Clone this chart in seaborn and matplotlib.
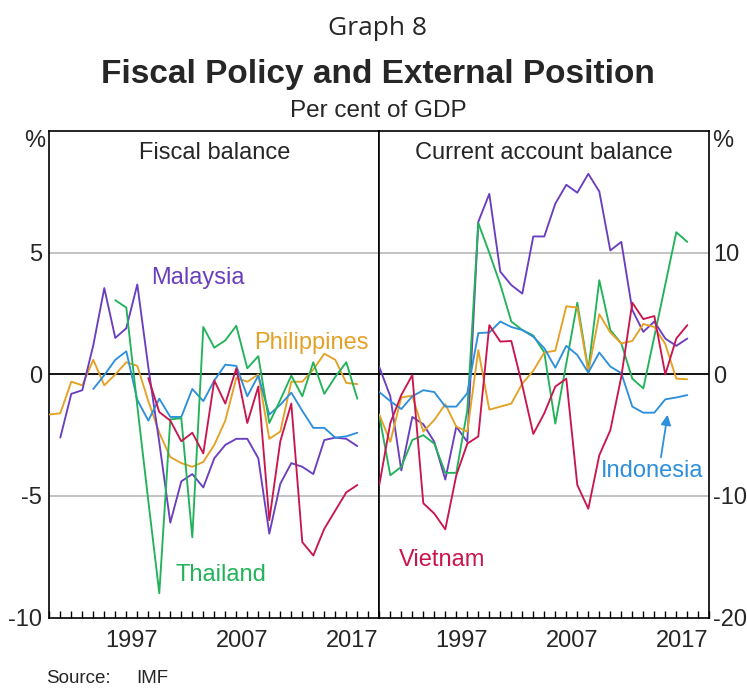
import numpy as np
import pandas as pd
import matplotlib
matplotlib.use("Agg")
import matplotlib.pyplot as plt
import seaborn as sns

sns.set_theme(style="white")
plt.rcParams["font.family"] = ["Liberation Sans", "DejaVu Sans"]

# ---------------- data (per cent of GDP), year-end observations ----------------
years = list(range(1989, 2018))  # 1989 .. 2017

# Fiscal balance
fiscal_philippines = [-1.65, -1.6, -0.3, -0.45, 0.6, -0.45, 0.0, 0.5, 0.35, -1.1,
                      -2.4, -3.4, -3.65, -3.8, -3.6, -2.9, -1.9, -0.15, -0.3, 0.0,
                      -2.65, -2.35, -0.3, -0.3, 0.2, 0.85, 0.6, -0.35, -0.4]
fiscal_malaysia = [None, -2.6, -0.8, -0.65, 1.2, 3.55, 1.5, 1.9, 3.7, 0.3,
                   -2.8, -6.1, -4.4, -4.1, -4.65, -3.45, -2.9, -2.65, -2.65, -3.45,
                   -6.55, -4.5, -3.65, -3.8, -4.1, -2.7, -2.6, -2.65, -2.95]
fiscal_indonesia = [None, None, None, None, -0.6, -0.03, 0.6, 0.95, -1.05, -1.9,
                    -1.0, -1.75, -1.75, -0.6, -1.1, -0.25, 0.4, 0.35, -0.9, -0.05,
                    -1.65, -1.25, -0.75, -1.5, -2.2, -2.2, -2.6, -2.55, -2.4]
fiscal_thailand = [None, None, None, None, None, None, 3.05, 2.75, -1.3, -5.2,
                   -9.0, -1.85, -1.8, -6.7, 1.95, 1.1, 1.4, 2.0, 0.25, 0.75,
                   -2.0, -1.05, -0.05, -0.9, 0.5, -0.8, -0.1, 0.5, -1.0]
fiscal_vietnam = [None, None, None, None, None, None, None, None, None, -0.15,
                  -1.55, -1.9, -2.75, -2.4, -3.25, -0.25, -1.2, 0.25, -2.0, -0.5,
                  -6.0, -2.75, -1.2, -6.9, -7.45, -6.35, -5.6, -4.85, -4.55]

# Current account balance
ca_malaysia = [0.6, -1.8, -7.9, -3.5, -4.1, -5.55, -8.65, -4.3, -5.55, 12.55,
               14.85, 8.45, 7.35, 6.65, 11.35, 11.35, 14.05, 15.6, 14.95, 16.5,
               15.05, 10.2, 10.9, 5.3, 3.5, 4.35, 2.95, 2.35, 2.95]
ca_thailand = [-3.4, -8.3, -7.6, -5.4, -5.0, -5.7, -8.1, -8.1, -2.95, 12.45,
               10.0, 7.4, 4.35, 3.65, 3.2, 1.8, -4.05, 0.9, 5.9, 0.35,
               7.75, 3.65, 2.55, -0.35, -1.15, 3.1, 7.4, 11.7, 10.9]
ca_philippines = [-3.3, -5.55, -1.9, -1.75, -4.7, -3.75, -2.45, -4.3, -4.7, 2.0,
                  -2.9, -2.65, -2.4, -0.75, 0.3, 1.8, 1.95, 5.6, 5.5, 0.2,
                  4.95, 3.45, 2.55, 2.75, 4.15, 3.9, 2.5, -0.35, -0.4]
ca_indonesia = [-1.45, -2.2, -2.85, -1.8, -1.3, -1.45, -2.65, -2.65, -1.55, 3.4,
                3.45, 4.35, 3.9, 3.65, 3.1, 2.15, 0.55, 2.35, 1.6, 0.15,
                1.8, 0.65, 0.1, -2.65, -3.15, -3.15, -2.05, -1.9, -1.7]
ca_vietnam = [-9.1, -4.0, -1.7, -0.05, -10.6, -11.45, -12.75, -8.3, -5.7, -5.1,
              4.05, 2.7, 2.75, -0.9, -4.9, -3.2, -1.0, -0.35, -9.1, -11.05,
              -6.65, -4.6, -0.2, 5.9, 4.55, 4.8, 0.0, 2.95, 4.05]

colors = {"Malaysia": "#6A3FBF", "Philippines": "#E3A126", "Thailand": "#22B35A",
          "Vietnam": "#C8174F", "Indonesia": "#2E8FDB"}

xtick_labels = ["1997", "2007", "2017"]


def long_frame(series):
    rows = []
    for name, vals in series.items():
        for y, v in zip(years, vals):
            if v is not None:
                rows.append({"x": y + 1.0, "value": v, "country": name})
    return pd.DataFrame(rows)


fiscal_df = long_frame({"Philippines": fiscal_philippines, "Malaysia": fiscal_malaysia,
                        "Indonesia": fiscal_indonesia, "Thailand": fiscal_thailand,
                        "Vietnam": fiscal_vietnam})
ca_df = long_frame({"Malaysia": ca_malaysia, "Thailand": ca_thailand,
                    "Philippines": ca_philippines, "Indonesia": ca_indonesia,
                    "Vietnam": ca_vietnam})

# ---------------- figure ----------------
W, H = 747, 689
fig = plt.figure(figsize=(W / 100, H / 100), dpi=100)

ax_l0, ax_r0, ax_top, ax_bot = 49.3, 709.3, 131.3, 617.5


def fx(px):
    return px / W


def fy(py):
    return 1 - py / H


axL = fig.add_axes([fx(ax_l0), fy(ax_bot), (379.3 - ax_l0) / W, (ax_bot - ax_top) / H])
axR = fig.add_axes([fx(379.3), fy(ax_bot), (ax_r0 - 379.3) / W, (ax_bot - ax_top) / H])

FS = 17

for ax, df, lim, ticks, labels in [
        (axL, fiscal_df, 10, [-10, -5, 0, 5, 10], ["-10", "-5", "0", "5", ""]),
        (axR, ca_df, 20, [-20, -10, 0, 10, 20], ["-20", "-10", "0", "10", ""])]:
    ax.set_ylim(-lim, lim)
    ax.set_xlim(1990, 2020)
    for g in (ticks[1], ticks[3]):
        ax.axhline(g, color="#b3b3b3", lw=1.1, zorder=1)
    ax.axhline(0, color="black", lw=1.3, zorder=1)
    sns.lineplot(data=df, x="x", y="value", hue="country", palette=colors,
                 legend=False, ax=ax, lw=1.35, zorder=3, estimator=None)
    ax.set_yticks(ticks)
    ax.set_yticklabels(labels)
    ax.set_xticks([1997.5, 2007.5, 2017.5])
    ax.set_xticklabels(xtick_labels)
    ax.set_xticks(np.arange(1990, 2021), minor=True)
    ax.tick_params(axis="x", which="major", length=0, pad=9, labelsize=FS)
    ax.tick_params(axis="x", which="minor", direction="in", length=5, width=1,
                   color="black", bottom=True)
    ax.tick_params(axis="y", length=0, labelsize=FS)
    ax.set_xlabel("")
    ax.set_ylabel("")
    for s in ax.spines.values():
        s.set_color("black")
        s.set_linewidth(1.2)
    ax.set_facecolor("white")

axL.tick_params(axis="y", pad=5)
axR.yaxis.tick_right()
axR.tick_params(axis="y", pad=3, length=0)

axL.text(0.5, 1 - 22 / (ax_bot - ax_top), "Fiscal balance", transform=axL.transAxes,
         ha="center", va="center", fontsize=FS)
axR.text(0.5, 1 - 22 / (ax_bot - ax_top), "Current account balance", transform=axR.transAxes,
         ha="center", va="center", fontsize=FS)

# titles
fig.text(fx(378), fy(35), "Graph 8", ha="center", va="baseline", fontsize=19,
         family=["Open Sans", "DejaVu Sans"])
fig.text(fx(377.5), fy(83), "Fiscal Policy and External Position", ha="center", va="baseline",
         fontsize=24, fontweight="bold")
fig.text(fx(378), fy(117), "Per cent of GDP", ha="center", va="baseline", fontsize=17.5)
fig.text(fx(35), fy(141), "%", ha="center", va="center", fontsize=FS)
fig.text(fx(723), fy(141), "%", ha="center", va="center", fontsize=FS)

# series labels
fig.text(fx(197.5), fy(278), "Malaysia", color=colors["Malaysia"], ha="center", va="center", fontsize=FS)
fig.text(fx(311), fy(343), "Philippines", color=colors["Philippines"], ha="center", va="center", fontsize=FS)
fig.text(fx(220.5), fy(575), "Thailand", color=colors["Thailand"], ha="center", va="center", fontsize=FS)
fig.text(fx(442), fy(560), "Vietnam", color=colors["Vietnam"], ha="center", va="center", fontsize=FS)
fig.text(fx(652), fy(471), "Indonesia", color=colors["Indonesia"], ha="center", va="center", fontsize=FS)
fig.add_artist(matplotlib.patches.FancyArrowPatch(
    (fx(660.5), fy(460)), (fx(668), fy(412)), transform=fig.transFigure,
    arrowstyle="-|>,head_length=6,head_width=3", color=colors["Indonesia"], lw=1.3))

fig.text(fx(46.5), fy(683), "Source:", ha="left", va="baseline", fontsize=13.5)
fig.text(fx(136.5), fy(683), "IMF", ha="left", va="baseline", fontsize=13.5)

fig.savefig("out.png", dpi=100, facecolor="white")
